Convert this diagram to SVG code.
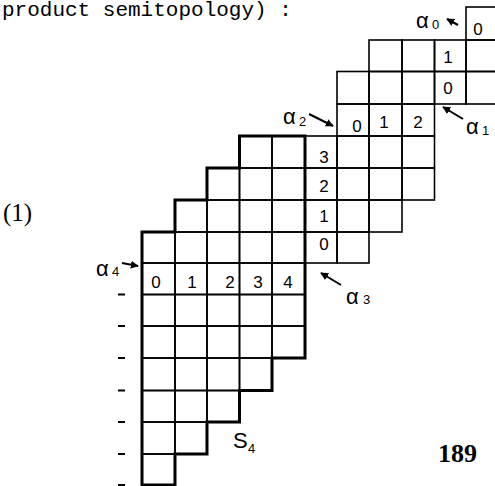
<svg xmlns="http://www.w3.org/2000/svg" width="495" height="486" viewBox="0 0 495 486">
<style>
.c{fill:none;stroke:#000;stroke-width:1.6}
.h{fill:none;stroke:#000;stroke-width:3;stroke-linejoin:miter}
.d{font-family:"Liberation Sans",sans-serif;font-size:17px;text-anchor:middle;fill:#000}
.a{font-family:"Liberation Sans",sans-serif;font-size:22px;fill:#000}
.s{font-family:"Liberation Sans",sans-serif;font-size:13px;fill:#000}
.ar{stroke:#000;stroke-width:2;fill:none;marker-end:url(#ah)}
.t{stroke:#000;stroke-width:2}
</style>
<defs>
<marker id="ah" viewBox="0 0 10 10" refX="9" refY="5" markerWidth="4" markerHeight="4" orient="auto" markerUnits="strokeWidth">
<path d="M0,0 L10,5 L0,10 z" fill="#000"/>
</marker>
</defs>
<rect width="495" height="486" fill="#fff"/>
<text x="2" y="15.5" font-family="Liberation Mono, monospace" font-size="21" fill="#000">product semitopology) :</text>
<text x="3" y="221" font-family="Liberation Serif, serif" font-size="25" fill="#000">(1)</text>
<text x="438" y="462" font-family="Liberation Serif, serif" font-size="26" font-weight="bold" fill="#000">189</text>

<g id="grid">
<!-- row 0 -->
<rect class="c" x="466" y="7" width="32.5" height="33"/>
<!-- row 1 -->
<rect class="c" x="369" y="40" width="33" height="31.5"/>
<rect class="c" x="402" y="40" width="32.5" height="31.5"/>
<rect class="c" x="434.5" y="40" width="31.5" height="31.5"/>
<rect class="c" x="466" y="40" width="32.5" height="31.5"/>
<!-- row 2 -->
<rect class="c" x="337" y="71.5" width="32" height="32.5"/>
<rect class="c" x="369" y="71.5" width="33" height="32.5"/>
<rect class="c" x="402" y="71.5" width="32.5" height="32.5"/>
<rect class="c" x="434.5" y="71.5" width="31.5" height="32.5"/>
<rect class="c" x="466" y="71.5" width="32.5" height="32.5"/>
<!-- row 3 -->
<rect class="c" x="337" y="104" width="32" height="32"/>
<rect class="c" x="369" y="104" width="33" height="32"/>
<rect class="c" x="402" y="104" width="32.5" height="32"/>
<!-- row 4 -->
<rect class="c" x="239.5" y="136" width="32.5" height="32"/>
<rect class="c" x="272" y="136" width="33" height="32"/>
<rect class="c" x="305" y="136" width="32" height="32"/>
<rect class="c" x="337" y="136" width="32" height="32"/>
<rect class="c" x="369" y="136" width="33" height="32"/>
<rect class="c" x="402" y="136" width="32.5" height="32"/>
<!-- row 5 -->
<rect class="c" x="207" y="168" width="32.5" height="32"/>
<rect class="c" x="239.5" y="168" width="32.5" height="32"/>
<rect class="c" x="272" y="168" width="33" height="32"/>
<rect class="c" x="305" y="168" width="32" height="32"/>
<rect class="c" x="337" y="168" width="32" height="32"/>
<rect class="c" x="369" y="168" width="33" height="32"/>
<rect class="c" x="402" y="168" width="32.5" height="32"/>
<!-- row 6 -->
<rect class="c" x="175" y="200" width="32" height="32"/>
<rect class="c" x="207" y="200" width="32.5" height="32"/>
<rect class="c" x="239.5" y="200" width="32.5" height="32"/>
<rect class="c" x="272" y="200" width="33" height="32"/>
<rect class="c" x="305" y="200" width="32" height="32"/>
<rect class="c" x="337" y="200" width="32" height="32"/>
<rect class="c" x="369" y="200" width="33" height="32"/>
<!-- row 7 -->
<rect class="c" x="142" y="232" width="33" height="31"/>
<rect class="c" x="175" y="232" width="32" height="31"/>
<rect class="c" x="207" y="232" width="32.5" height="31"/>
<rect class="c" x="239.5" y="232" width="32.5" height="31"/>
<rect class="c" x="272" y="232" width="33" height="31"/>
<rect class="c" x="305" y="232" width="32" height="31"/>
<rect class="c" x="337" y="232" width="32" height="31"/>
<!-- rows 8-10 -->
<rect class="c" x="142" y="263" width="33" height="31.5"/>
<rect class="c" x="175" y="263" width="32" height="31.5"/>
<rect class="c" x="207" y="263" width="32.5" height="31.5"/>
<rect class="c" x="239.5" y="263" width="32.5" height="31.5"/>
<rect class="c" x="272" y="263" width="33" height="31.5"/>
<rect class="c" x="142" y="294.5" width="33" height="31.5"/>
<rect class="c" x="175" y="294.5" width="32" height="31.5"/>
<rect class="c" x="207" y="294.5" width="32.5" height="31.5"/>
<rect class="c" x="239.5" y="294.5" width="32.5" height="31.5"/>
<rect class="c" x="272" y="294.5" width="33" height="31.5"/>
<rect class="c" x="142" y="326" width="33" height="32"/>
<rect class="c" x="175" y="326" width="32" height="32"/>
<rect class="c" x="207" y="326" width="32.5" height="32"/>
<rect class="c" x="239.5" y="326" width="32.5" height="32"/>
<rect class="c" x="272" y="326" width="33" height="32"/>
<!-- row 11 -->
<rect class="c" x="142" y="358" width="33" height="32.5"/>
<rect class="c" x="175" y="358" width="32" height="32.5"/>
<rect class="c" x="207" y="358" width="32.5" height="32.5"/>
<rect class="c" x="239.5" y="358" width="32.5" height="32.5"/>
<!-- row 12 -->
<rect class="c" x="142" y="390.5" width="33" height="31.5"/>
<rect class="c" x="175" y="390.5" width="32" height="31.5"/>
<rect class="c" x="207" y="390.5" width="32.5" height="31.5"/>
<!-- row 13 -->
<rect class="c" x="142" y="422" width="33" height="32"/>
<rect class="c" x="175" y="422" width="32" height="32"/>
<!-- row 14 -->
<rect class="c" x="142" y="454" width="33" height="31"/>
</g>

<g id="S4">
<path class="h" d="M239.5,136 H305 V358 H272 V390.5 H239.5 V422 H207 V454 H175 V485 H142 V232 H175 V200 H207 V168 H239.5 Z"/>
<text x="233" y="448" font-family="Liberation Sans, sans-serif" font-size="22" fill="#000">S</text>
<text class="s" x="248" y="453">4</text>
</g>

<g id="digits">
<text class="d" x="478" y="35">0</text>
<text class="d" x="448" y="63">1</text>
<text class="d" x="448" y="94">0</text>
<text class="d" x="357" y="132">0</text>
<text class="d" x="384" y="128">1</text>
<text class="d" x="418" y="128">2</text>
<text class="d" x="324" y="163">3</text>
<text class="d" x="324" y="192">2</text>
<text class="d" x="324" y="222">1</text>
<text class="d" x="324" y="250">0</text>
<text class="d" x="156" y="288">0</text>
<text class="d" x="192" y="288">1</text>
<text class="d" x="230" y="288">2</text>
<text class="d" x="258" y="288">3</text>
<text class="d" x="288" y="288">4</text>
</g>

<g id="labels">
<g id="alpha0"><text class="a" x="416" y="28">α</text><text class="s" x="432" y="29">0</text></g>
<g id="alpha1"><text class="a" x="466" y="134">α</text><text class="s" x="482" y="135">1</text></g>
<g id="alpha2"><text class="a" x="283" y="124">α</text><text class="s" x="299" y="126">2</text></g>
<g id="alpha3"><text class="a" x="346" y="304">α</text><text class="s" x="363" y="304">3</text></g>
<g id="alpha4"><text class="a" x="96" y="276">α</text><text class="s" x="112" y="276">4</text></g>
</g>

<g id="connectors">
<line class="ar" x1="458" y1="25" x2="447" y2="19"/>
<line class="ar" x1="463" y1="119" x2="443" y2="107"/>
<line class="ar" x1="309" y1="114" x2="333" y2="126"/>
<line class="ar" x1="341" y1="285" x2="321" y2="273"/>
<line class="ar" x1="122" y1="263" x2="138" y2="266"/>
</g>

<g id="ticks">
<line class="t" x1="118" y1="294.5" x2="125" y2="294.5"/>
<line class="t" x1="118" y1="326" x2="125" y2="326"/>
<line class="t" x1="118" y1="358" x2="125" y2="358"/>
<line class="t" x1="118" y1="390.5" x2="125" y2="390.5"/>
<line class="t" x1="118" y1="422" x2="125" y2="422"/>
<line class="t" x1="118" y1="454" x2="125" y2="454"/>
<line class="t" x1="118" y1="485" x2="125" y2="485"/>
</g>
</svg>
